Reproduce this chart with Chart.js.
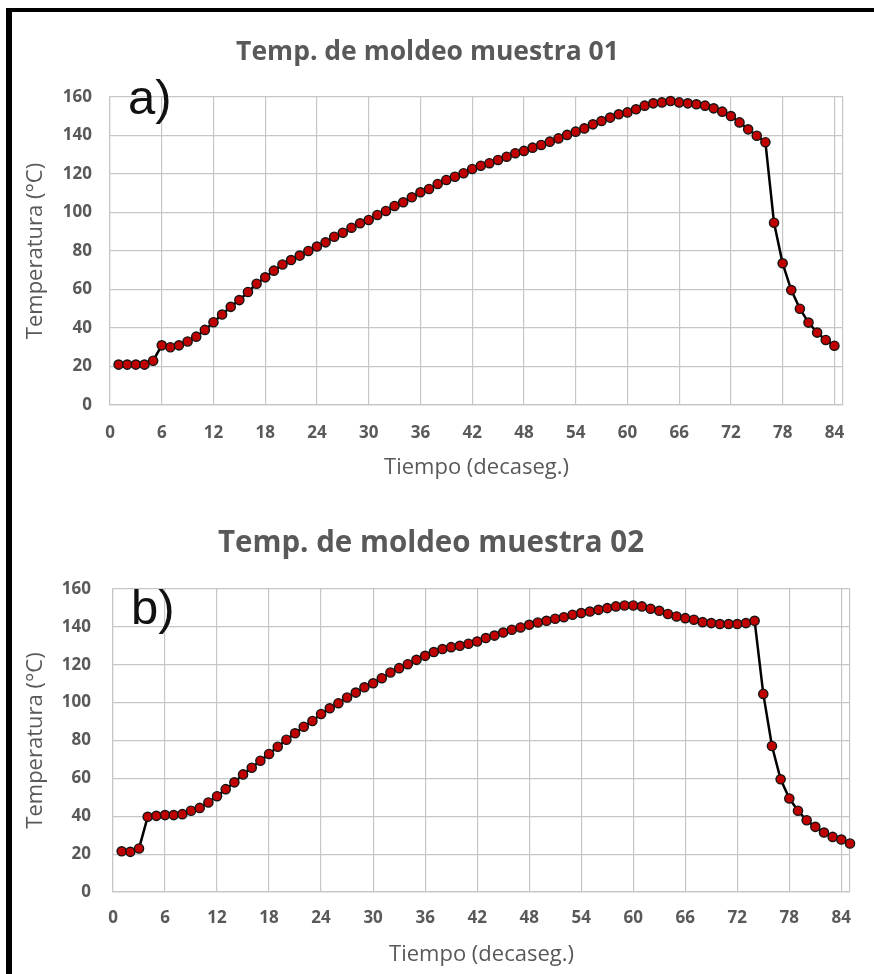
<!DOCTYPE html>
<html>
<head>
<meta charset="utf-8">
<script src="https://cdn.jsdelivr.net/npm/chart.js@4"></script>
<style>
  html, body { margin:0; padding:0; background:#fff; }
  body { width:874px; height:974px; position:relative; overflow:hidden; }
  #frame { position:absolute; left:6px; top:8px; right:-20px; bottom:-20px; border-left:6px solid #000; border-top:4px solid #000; }
  .box { position:absolute; left:12px; width:862px; }
  #boxA { top:14px; height:480px; }
  #boxB { top:500px; height:474px; }
  .tag { position:absolute; font-family:"Liberation Sans", Arial, sans-serif; font-size:49px; line-height:1; color:#111; }
</style>
</head>
<body>
<div id="frame"></div>
<div class="box" id="boxA"><canvas id="chartA"></canvas></div>
<div class="box" id="boxB"><canvas id="chartB"></canvas></div>
<div class="tag" style="left:128px; top:73px">a)</div>
<div class="tag" style="left:131px; top:583px">b)</div>
<script>
// tiempo (decaseg.) y temperatura (°C) de cada muestra
var tiempoA = [1,2,3,4,5,6,7,8,9,10,11,12,13,14,15,16,17,18,19,20,21,22,23,24,25,26,27,28,29,30,
  31,32,33,34,35,36,37,38,39,40,41,42,43,44,45,46,47,48,49,50,51,52,53,54,55,56,57,58,59,60,
  61,62,63,64,65,66,67,68,69,70,71,72,73,74,75,76,77,78,79,80,81,82,83,84];
var tempA = [21,21,21,21,23,31,30,31,33,35.5,39,43,47,51,54.5,58.7,63,66.3,69.8,73,75.3,77.6,
  80,82.3,84.5,87.4,89.5,92.1,94.4,96.1,98.7,100.8,103.4,105.3,107.9,110.5,112.2,114.8,116.9,118.6,
  120.4,122.6,124.3,125.6,127.3,129,130.8,132,133.7,135.1,136.8,138.5,140.3,142,
  143.7,145.8,147.5,149.3,151,152,153.6,155.5,156.7,157.2,157.9,157.2,156.7,156.2,155.5,154.1,
  152.4,150.1,146.8,143.2,139.9,136.5,94.7,73.6,59.7,50,42.8,37.6,33.8,30.8];

var tiempoB = [1,2,3,4,5,6,7,8,9,10,11,12,13,14,15,16,17,18,19,20,21,22,23,24,25,26,27,28,29,30,
  31,32,33,34,35,36,37,38,39,40,41,42,43,44,45,46,47,48,49,50,51,52,53,54,55,56,57,58,59,60,
  61,62,63,64,65,66,67,68,69,70,71,72,73,74,75,76,77,78,79,80,81,82,83,84,85];
var tempB = [21.5,21.2,23,39.7,40.2,40.6,40.6,41.1,42.9,44.4,47.3,50.6,54.3,57.9,62.1,65.6,69.3,72.9,76.7,80.4,83.8,
  87.3,90.3,94,97,99.7,102.7,105.3,108.1,110.2,112.9,115.9,118.2,120.3,122.6,124.7,126.7,128.3,129.3,130,
  131.1,132.3,134.1,135.4,137,138.5,139.7,141.1,142.3,143.2,144.3,145.1,146.4,147.3,
  148.1,149,149.9,150.8,151.3,151.3,150.8,149.6,148.5,146.8,145.5,144.6,143.8,142.5,142,141.5,
  141.5,141.5,142,143.2,104.6,77.1,59.5,49.4,42.9,37.9,34.4,31.4,29.1,27.7,25.6];

var xTickLabels = [0,6,12,18,24,30,36,42,48,54,60,66,72,78,84];
var yTickLabels = [0,20,40,60,80,100,120,140,160];
var xMax = 85;

var gris = '#595959';
var rejilla = '#c6c6c6';

function buildChart(id, titulo, tiempo, temp, L) {
  return new Chart(document.getElementById(id), {
    type: 'line',
    data: {
      datasets: [{
        data: tiempo.map((t, i) => ({ x: t, y: temp[i] })),
        borderColor: '#000',
        borderWidth: 2.5,
        pointBackgroundColor: '#c00000',
        pointBorderColor: '#141414',
        pointBorderWidth: 1.4,
        pointRadius: 4.6,
        tension: 0,
        clip: false
      }]
    },
    options: {
      responsive: true,
      maintainAspectRatio: false,
      animation: false,
      layout: { padding: { left: 0, right: L.right, top: 0, bottom: 0 } },
      plugins: {
        legend: { display: false },
        tooltip: { enabled: false },
        title: {
          display: true,
          text: titulo,
          color: gris,
          font: { family: 'Open Sans', size: L.titleSize, weight: 'bold' },
          padding: { top: L.titleTop, bottom: L.titleBottom }
        }
      },
      scales: {
        x: {
          type: 'linear',
          min: 0,
          max: xMax,
          afterBuildTicks: s => { s.ticks = xTickLabels.concat([xMax]).map(v => ({ value: v })); },
          afterFit: s => { s.height = L.xHeight; },
          grid: { color: rejilla, lineWidth: 1.2, drawTicks: false },
          border: { color: rejilla, width: 1.2 },
          ticks: {
            padding: L.xPad,
            color: gris,
            maxRotation: 0,
            autoSkip: false,
            font: { family: 'Open Sans', size: 17, weight: 'bold' },
            callback: v => xTickLabels.includes(v) ? v : ''
          },
          title: {
            display: true,
            text: 'Tiempo (decaseg.)',
            color: gris,
            font: { family: 'Open Sans', size: 22 },
            padding: { top: 0, bottom: L.xTitleBottom }
          }
        },
        y: {
          min: 0,
          max: 160,
          afterBuildTicks: s => { s.ticks = yTickLabels.map(v => ({ value: v })); },
          afterFit: s => { s.width = L.yWidth; },
          grid: { color: rejilla, lineWidth: 1.2, drawTicks: false },
          border: { color: rejilla, width: 1.2 },
          ticks: {
            padding: L.yPad,
            color: gris,
            font: { family: 'Open Sans', size: 17, weight: 'bold' }
          },
          title: {
            display: true,
            text: 'Temperatura (°C)',
            color: gris,
            font: { family: 'Open Sans', size: 22 },
            padding: { top: L.yTitleTop, bottom: 0 }
          }
        }
      }
    }
  });
}

buildChart('chartA', 'Temp. de moldeo muestra 01', tiempoA, tempA, {
  right: 31, titleSize: 26.5, titleTop: 22.1, titleBottom: 29.1,
  xHeight: 89, xPad: 17.8, xTitleBottom: 12.8,
  yWidth: 98, yPad: 18, yTitleTop: 10.8
});

buildChart('chartB', 'Temp. de moldeo muestra 02', tiempoB, tempB, {
  right: 24, titleSize: 29.5, titleTop: 26.3, titleBottom: 27.3,
  xHeight: 82, xPad: 15.8, xTitleBottom: 5.8,
  yWidth: 101, yPad: 22, yTitleTop: 10.8
});
</script>
</body>
</html>
